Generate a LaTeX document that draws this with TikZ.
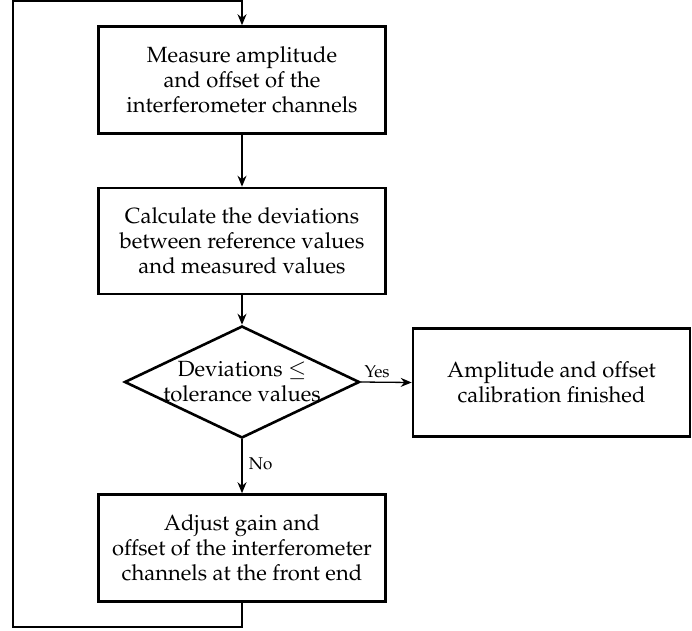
\documentclass[tikz,border=0pt]{standalone}
\usepackage[T1]{fontenc}
\usepackage{mathpazo}
\usetikzlibrary{shapes.geometric,arrows.meta}
\begin{document}
\begin{tikzpicture}[x=1pt,y=-1pt,
    boxtext/.style={font=\fontsize{22}{25}\selectfont, align=center},
    procbox/.style={draw, line width=2.6pt, rectangle, boxtext, inner sep=0pt},
    flow/.style={line width=1.3pt, -{Stealth[length=11pt,width=9pt]}},
    edgelabel/.style={font=\fontsize{17}{19}\selectfont}]
  \useasboundingbox (0,0) rectangle (692,630);

  % process steps
  \node[procbox, minimum width=287pt, minimum height=107pt] (measure) at (242,80)
    {Measure amplitude\\and offset of the\\interferometer channels};
  \node[procbox, minimum width=287pt, minimum height=106pt] (calc) at (242,241)
    {Calculate the deviations\\between reference values\\and measured values};

  % decision
  \node[draw, line width=2.6pt, diamond, minimum width=235pt, minimum height=112pt,
        inner sep=0pt] (check) at (242,382) {};
  \node[boxtext] (checktext) at (check.center)
    {Deviations $\leq$\\tolerance values};

  \node[procbox, minimum width=277pt, minimum height=108pt] (done) at (551.5,382.5)
    {Amplitude and offset\\calibration finished};
  \node[procbox, minimum width=287pt, minimum height=107pt] (adjust) at (242,548)
    {Adjust gain and\\offset of the interferometer\\channels at the front end};

  % connectors
  \draw[flow] (measure) -- (calc);
  \draw[flow] (calc) -- (check.north);
  \draw[flow] (check.east) -- node[edgelabel, above, pos=0.32] {Yes} (done.west);
  \draw[flow] (check.south) -- node[edgelabel, right, pos=0.45, xshift=3pt] {No} (adjust.north);

  % feedback loop
  \coordinate (loopbottom) at (13,627);
  \coordinate (looptop) at (13,1);
  \draw[flow] (adjust.south) |- (loopbottom) -- (looptop) -| (measure.north);
\end{tikzpicture}
\end{document}
